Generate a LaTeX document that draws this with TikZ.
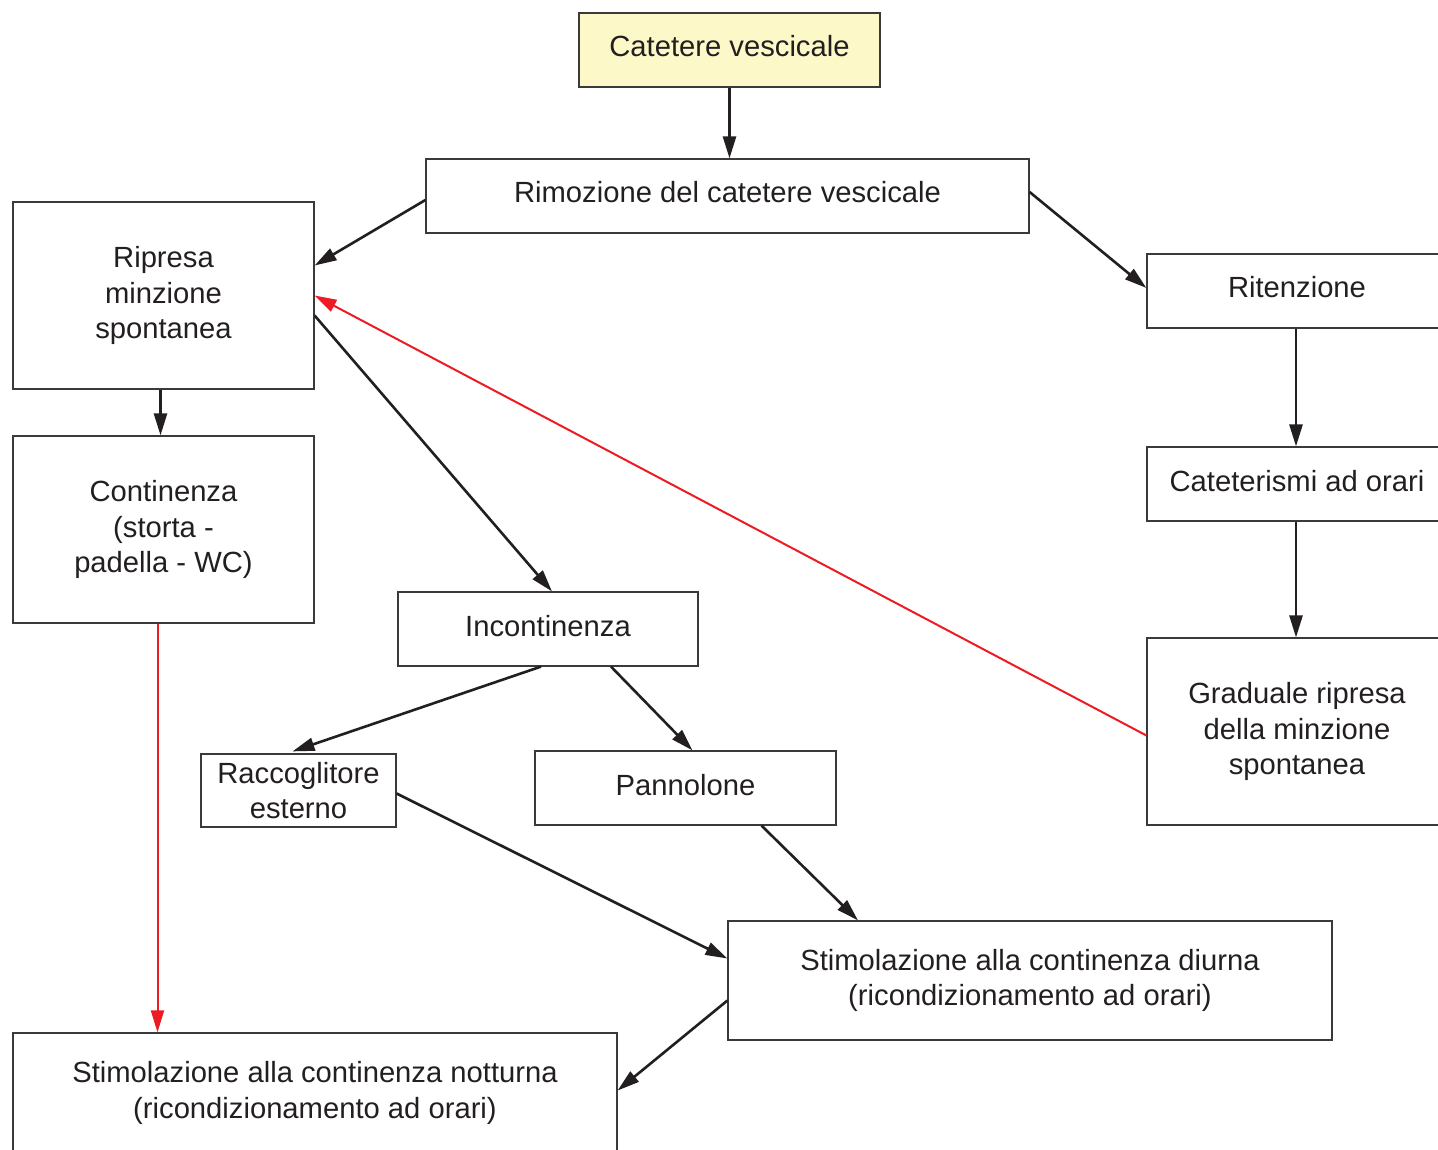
\documentclass[tikz,border=0pt]{standalone}
\usepackage{fontspec}
\setmainfont{Liberation Sans}
\usetikzlibrary{arrows.meta}
\definecolor{boxcol}{HTML}{3A3A3A}
\definecolor{txtcol}{HTML}{231F20}
\definecolor{yel}{HTML}{FCF8C8}
\definecolor{redl}{HTML}{ED1C24}
\newcommand{\fsz}{\fontsize{29.2}{35.5}\selectfont}
\begin{document}
\begin{tikzpicture}[x=1pt,y=-1pt,
  box/.style={draw=boxcol, line width=1.2pt, inner sep=0pt, align=center, font=\fsz, text=txtcol},
  oneline/.style={text height=21pt, text depth=7pt},
  txt/.style={inner sep=0pt, align=center, font=\fsz, text=txtcol},
  arr/.style={draw=txtcol, line width=2.6pt, -{Triangle[length=22pt,width=13pt]}},
  rarr/.style={draw=redl, line width=2pt, -{Triangle[length=22pt,width=13pt]}}]
\useasboundingbox (0,0) rectangle (1438,1150);
\clip (0,0) rectangle (1438,1150);
\fill[white] (0,0) rectangle (1438,1150);
% nodes
\node[box, oneline, fill=yel, minimum width=301, minimum height=74] (cat) at (729.5,50) {Catetere vescicale};
\node[box, oneline, minimum width=603, minimum height=74] (rim) at (727.5,196) {Rimozione del catetere vescicale};
\node[box, minimum width=301, minimum height=187] (rip) at (163.5,295.5) {Ripresa\\minzione\\spontanea};
\node[box, minimum width=301, minimum height=187] (cont) at (163.5,529.5) {Continenza\\(storta -\\padella - WC)};
\node[box, oneline, minimum width=300, minimum height=74] (rit) at (1297,291) {Ritenzione};
\node[box, oneline, minimum width=300, minimum height=74] (cath) at (1297,484) {Cateterismi ad orari};
\node[box, minimum width=300, minimum height=187] (grad) at (1297,731.5) {Graduale ripresa\\della minzione\\spontanea};
\node[box, oneline, minimum width=300, minimum height=74] (inc) at (548,629) {Incontinenza};
\node[box, minimum width=195, minimum height=73] (racc) at (298.5,790.5) {Raccoglitore\\esterno};
\node[box, oneline, minimum width=301, minimum height=74] (pan) at (685.5,788) {Pannolone};
\node[box, minimum width=604, minimum height=119] (diu) at (1030,980.5) {Stimolazione alla continenza diurna\\(ricondizionamento ad orari)};
\node[box, minimum width=604, minimum height=127] (notb) at (315,1096.5) {};
\node[txt] (nott) at (315,1093) {Stimolazione alla continenza notturna\\(ricondizionamento ad orari)};
% connectors
\draw[arr] (cat.south) -- (cat.south |- rim.north);
\draw[arr] ([yshift=-4pt]rim.west) -- ([yshift=30pt]rip.east);
\draw[arr] ([yshift=4pt]rim.east) -- ([yshift=3pt]rit.west);
\draw[arr] ([xshift=-3pt]rip.south) -- ([xshift=-3pt]cont.north);
\draw[arr] ([yshift=-20pt]rip.east) -- ([xshift=4pt]inc.north);
\draw[arr] ([xshift=-1pt]rit.south) -- ([xshift=-1pt]cath.north);
\draw[arr] ([xshift=-1pt]cath.south) -- ([xshift=-1pt]grad.north);
\draw[rarr] ([yshift=-4pt]grad.west) -- (rip.east);
\draw[rarr] ([xshift=-6pt]cont.south) -- ([xshift=-6pt]cont.south |- notb.north);
\draw[arr] ([xshift=-7pt]inc.south) -- ([xshift=-6pt,yshift=2pt]racc.north);
\draw[arr] ([xshift=63pt]inc.south) -- ([xshift=7pt]pan.north);
\draw[arr] ([yshift=-3pt]racc.east) -- ([yshift=22pt]diu.west);
\draw[arr] ([xshift=76pt]pan.south) -- ([xshift=-172pt]diu.north);
\draw[arr] ([yshift=-20pt]diu.west) -- ([yshift=6pt]notb.east);
\end{tikzpicture}
\end{document}
